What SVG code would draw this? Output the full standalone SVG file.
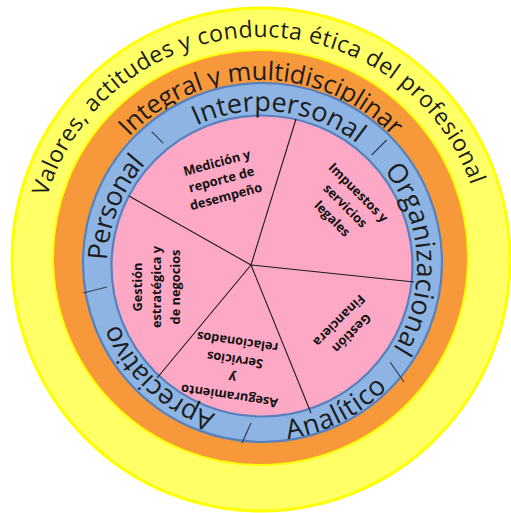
<svg xmlns="http://www.w3.org/2000/svg" width="511" height="513" viewBox="0 0 511 513">
  <style>
    .ring-txt { font-family: "Open Sans", "Liberation Sans", sans-serif; fill: #1c1c1c; }
    .t-outer { font-size: 23px; }
    .t-mid { font-size: 25.5px; }
    .t-comp { font-size: 27px; }
    .area { font-family: "Open Sans", "Liberation Sans", sans-serif; font-weight: 700; font-size: 12.8px; fill: #111111; text-anchor: middle; }
    .sector { stroke: #1a1a1a; stroke-width: 1.1; fill: none; }
    .tick { stroke: #2b3f5c; stroke-width: 1.2; fill: none; }
  </style>
  <defs>
    <!-- baselines for the ring labels -->
    <path id="arc-outer" d="M47.18,196.66 A223,223 0 0 1 476.40,202.28"/>
    <path id="arc-mid" d="M128.98,136.72 A182,182 0 0 1 410.09,157.61"/>
    <path id="arc-interpersonal" d="M196.49,125.52 A155,155 0 0 1 380.74,166.37"/>
    <path id="arc-organizacional" d="M384.14,170.57 A155,155 0 0 1 380.74,365.63"/>
    <path id="arc-personal" d="M107.09,260.59 A155,155 0 0 1 173.09,139.03"/>
    <path id="arc-apreciativo" d="M215.39,413.83 A155,155 0 0 1 107.59,279.51"/>
    <path id="arc-analitico" d="M287.87,439.08 A175,175 0 0 0 405.35,366.38"/>
  </defs>

  <!-- outer ring: values and ethics -->
  <g id="ring-valores">
    <ellipse cx="261" cy="259.5" rx="249" ry="251.5" fill="#ffff66" stroke="#ffff00" stroke-width="3"/>
    <text class="ring-txt t-outer"><textPath href="#arc-outer" textLength="560">Valores, actitudes y conducta ética del profesional</textPath></text>
  </g>

  <!-- middle ring -->
  <g id="ring-integral">
    <circle cx="260.5" cy="257.5" r="207.5" fill="#f7983a" stroke="#ffff00" stroke-width="2"/>
    <text class="ring-txt t-mid"><textPath href="#arc-mid" textLength="295">Integral y multidisciplinar</textPath></text>
  </g>

  <!-- competence ring -->
  <g id="ring-competencias">
    <circle cx="262.5" cy="262.5" r="179.5" fill="#8db4e2" stroke="#5681be" stroke-width="2.2"/>
    <circle cx="262" cy="266" r="150.5" fill="#fda8c5" stroke="#5681be" stroke-width="2.2"/>
  </g>

  <g id="comp-interpersonal">
    <text class="ring-txt t-comp"><textPath href="#arc-interpersonal" textLength="170">Interpersonal</textPath></text>
  </g>
  <g id="comp-organizacional">
    <text class="ring-txt t-comp"><textPath href="#arc-organizacional" textLength="190">Organizacional</textPath></text>
  </g>
  <g id="comp-analitico">
    <text class="ring-txt t-comp"><textPath href="#arc-analitico" textLength="114">Analítico</textPath></text>
  </g>
  <g id="comp-apreciativo">
    <text class="ring-txt t-comp"><textPath href="#arc-apreciativo" textLength="137">Apreciativo</textPath></text>
  </g>
  <g id="comp-personal">
    <text class="ring-txt t-comp"><textPath href="#arc-personal" textLength="106">Personal</textPath></text>
  </g>

  <!-- sector and ring divisions -->
  <g id="dividers">
    <line class="sector" x1="251" y1="265" x2="296" y2="119"/>
    <line class="sector" x1="251" y1="265" x2="129" y2="196"/>
    <line class="sector" x1="251" y1="265" x2="414" y2="282"/>
    <line class="sector" x1="251" y1="265" x2="157" y2="378"/>
    <line class="sector" x1="251" y1="265" x2="311" y2="413"/>
    <line class="tick" x1="151.7" y1="131.7" x2="163.3" y2="143.3"/>
    <line class="tick" x1="371.7" y1="155" x2="386.7" y2="140"/>
    <line class="tick" x1="390" y1="362" x2="404" y2="382"/>
    <line class="tick" x1="251" y1="423" x2="242" y2="443"/>
    <line class="tick" x1="83" y1="293" x2="107" y2="287"/>
  </g>

  <!-- knowledge areas -->
  <g id="area-medicion" transform="translate(221.5,180) rotate(-15)">
    <text class="area"><tspan x="0" y="-13.5">Medición y</tspan><tspan x="0" y="4">reporte de</tspan><tspan x="0" y="21.5">desempeño</tspan></text>
  </g>
  <g id="area-impuestos" transform="translate(345,206) rotate(45)">
    <text class="area"><tspan x="0" y="-14.5">Impuestos y</tspan><tspan x="0" y="4">servicios</tspan><tspan x="0" y="22.5">legales</tspan></text>
  </g>
  <g id="area-estrategica" transform="translate(161,287) rotate(-90)">
    <text class="area"><tspan x="0" y="-19">Gestión</tspan><tspan x="0" y="0">estratégica y</tspan><tspan x="0" y="19">de negocios</tspan></text>
  </g>
  <g id="area-aseguramiento" transform="translate(233.5,369) rotate(188.5)">
    <text class="area"><tspan x="0" y="-22.8">Aseguramiento</tspan><tspan x="0" y="-4.6">y</tspan><tspan x="0" y="13.6">Servicios</tspan><tspan x="0" y="31.8">relacionados</tspan></text>
  </g>
  <g id="area-financiera" transform="translate(345.5,327) rotate(135)">
    <text class="area"><tspan x="0" y="-4.35">Gestión</tspan><tspan x="0" y="13.35">Financiera</tspan></text>
  </g>
</svg>
